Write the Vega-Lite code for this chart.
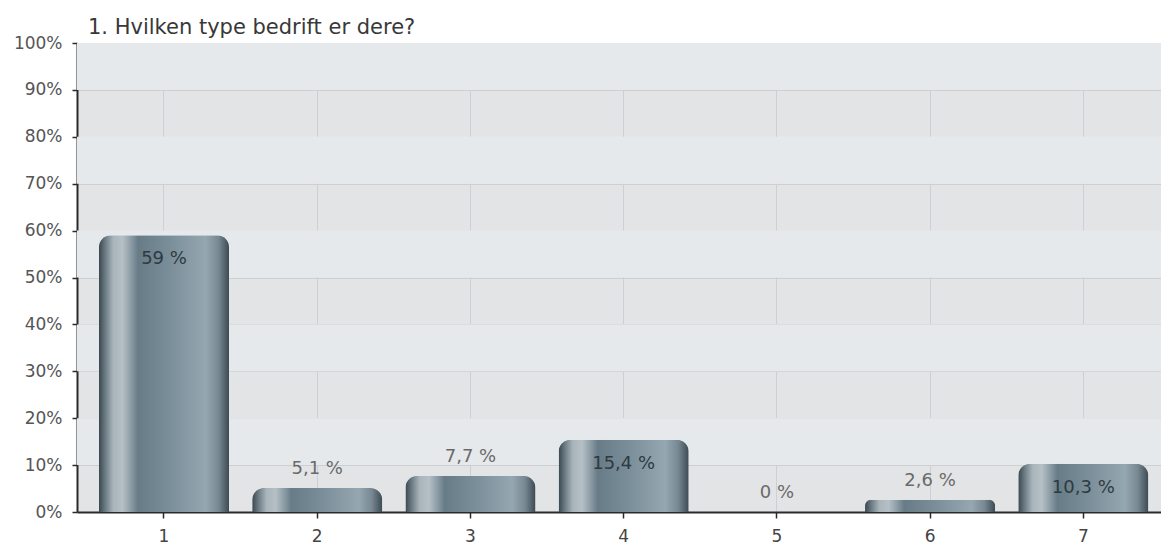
{
  "$schema": "https://vega.github.io/schema/vega-lite/v6.json",
  "width": 1084,
  "height": 469,
  "autosize": {"type": "none"},
  "padding": {"left": 77, "top": 43, "right": 0, "bottom": 33},
  "background": "#ffffff",
  "title": {
    "text": "1. Hvilken type bedrift er dere?",
    "anchor": "start",
    "frame": "group",
    "dx": 11,
    "offset": -4,
    "font": "DejaVu Sans",
    "fontSize": 21,
    "fontWeight": "normal",
    "color": "#383838"
  },
  "datasets": {
    "svar": [
      {"kategori": "1", "andel": 59, "etikett": "59 %"},
      {"kategori": "2", "andel": 5.1, "etikett": "5,1 %"},
      {"kategori": "3", "andel": 7.7, "etikett": "7,7 %"},
      {"kategori": "4", "andel": 15.4, "etikett": "15,4 %"},
      {"kategori": "5", "andel": 0, "etikett": "0 %"},
      {"kategori": "6", "andel": 2.6, "etikett": "2,6 %"},
      {"kategori": "7", "andel": 10.3, "etikett": "10,3 %"}
    ],
    "striper": [
      {"fra": 90, "til": 100},
      {"fra": 70, "til": 80},
      {"fra": 50, "til": 60},
      {"fra": 30, "til": 40},
      {"fra": 10, "til": 20}
    ]
  },
  "config": {
    "view": {"fill": "#e3e4e6", "stroke": null},
    "font": "DejaVu Sans",
    "axis": {
      "labelFont": "DejaVu Sans",
      "labelFontSize": 17,
      "labelColor": "#555555",
      "domainColor": "#2a2a2a",
      "domainWidth": 2,
      "tickColor": "#2a2a2a",
      "tickWidth": 1.5,
      "gridColor": "#cdd0d3",
      "gridWidth": 1,
      "gridOpacity": 1,
      "title": null
    }
  },
  "layer": [
    {
      "data": {"name": "striper"},
      "mark": {"type": "rect", "color": "#e6e9ec"},
      "encoding": {
        "x": {"value": 0},
        "x2": {"value": "width"},
        "y": {"field": "fra", "type": "quantitative", "scale": {"domain": [0, 100], "nice": false}},
        "y2": {"field": "til"}
      }
    },
    {
      "data": {"name": "svar"},
      "mark": {
        "type": "bar",
        "cornerRadiusTopLeft": 12,
        "cornerRadiusTopRight": 12,
        "color": {
          "gradient": "linear",
          "x1": 0, "y1": 0, "x2": 1, "y2": 0,
          "stops": [
            {"offset": 0, "color": "#3a474f"},
            {"offset": 0.05, "color": "#6d7c85"},
            {"offset": 0.11, "color": "#a9b5bb"},
            {"offset": 0.18, "color": "#b5c0c6"},
            {"offset": 0.25, "color": "#8a9aa3"},
            {"offset": 0.3, "color": "#687c88"},
            {"offset": 0.55, "color": "#7b8f9a"},
            {"offset": 0.82, "color": "#95a7b1"},
            {"offset": 0.92, "color": "#778893"},
            {"offset": 1, "color": "#3c4a52"}
          ]
        }
      },
      "encoding": {
        "x": {
          "field": "kategori",
          "type": "nominal",
          "sort": null,
          "scale": {"type": "band", "paddingInner": 0.151, "paddingOuter": 0.113, "align": 0.634},
          "axis": {
            "labelAngle": 0,
            "labelColor": "#444444",
            "labelPadding": 10,
            "tickSize": 6,
            "grid": true
          }
        },
        "y": {
          "field": "andel",
          "type": "quantitative",
          "scale": {"domain": [0, 100], "nice": false},
          "axis": {
            "values": [0, 10, 20, 30, 40, 50, 60, 70, 80, 90, 100],
            "labelExpr": "datum.value + '%'",
            "tickSize": 5,
            "labelPadding": 10,
            "grid": true
          }
        }
      }
    },
    {
      "data": {"name": "svar"},
      "transform": [{"filter": "datum.andel >= 10"}],
      "mark": {"type": "text", "dy": 24, "fontSize": 18, "color": "#2e3a42", "font": "DejaVu Sans"},
      "encoding": {
        "x": {"field": "kategori", "type": "nominal", "sort": null},
        "y": {"field": "andel", "type": "quantitative"},
        "text": {"field": "etikett"}
      }
    },
    {
      "data": {"name": "svar"},
      "transform": [{"filter": "datum.andel < 10"}],
      "mark": {"type": "text", "dy": -19, "fontSize": 18, "color": "#6a6a6a", "font": "DejaVu Sans"},
      "encoding": {
        "x": {"field": "kategori", "type": "nominal", "sort": null},
        "y": {"field": "andel", "type": "quantitative"},
        "text": {"field": "etikett"}
      }
    },
    {
      "mark": {"type": "rule", "color": "#8a8a8a", "strokeWidth": 2},
      "encoding": {"y": {"datum": 100}}
    }
  ]
}
